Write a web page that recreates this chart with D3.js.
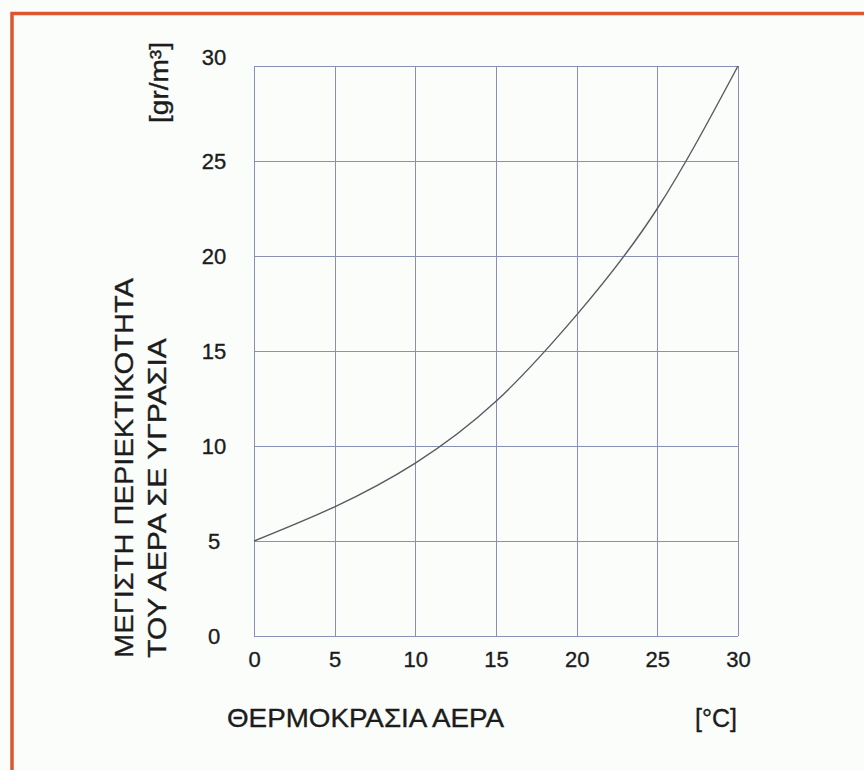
<!DOCTYPE html>
<html lang="el">
<head>
<meta charset="utf-8">
<title>Μέγιστη περιεκτικότητα του αέρα σε υγρασία</title>
<script src="https://cdn.jsdelivr.net/npm/d3@7"></script>
<style>
body{
  margin: 0;
  background: #ffffff;
}
text{
  font-family: "Liberation Sans", Arial, sans-serif;
  fill: #1c1c1c;
  stroke: #1c1c1c;
  stroke-width: 0.35px;
}
.grid line{
  stroke: #8a8fb6;
  stroke-width: 1;
  shape-rendering: crispEdges;
}
.grid path{ display: none; }
.axis path, .axis line{ display: none; }
.axis text{ font-size: 22px; }
</style>
</head>
<body>
<div id="chart"></div>
<script>
// temperature (°C) and max water content (gr/m3)
var temps  = [0, 5, 10, 15, 20, 25, 30];
var water  = [5.0, 6.8, 9.1, 12.35, 16.9, 22.5, 30];
var xTicks = [0, 5, 10, 15, 20, 25, 30];
var yTicks = [0, 5, 10, 15, 20, 25, 30];

var margin = { top: 66, right: 126, bottom: 134, left: 254 };
var W = 864, H = 770;
var width = W - margin.left - margin.right,
    height = H - margin.top - margin.bottom;

var svg = d3.select('#chart').append('svg')
  .attr('width', W)
  .attr('height', H);

// page background + orange frame (right and bottom edges run off the page)
svg.append('rect')
  .attr('x', 0).attr('y', 0).attr('width', W).attr('height', H)
  .style('fill', '#fbfdfb');
svg.append('rect')
  .attr('x', 12).attr('y', 13.5).attr('width', W + 20).attr('height', H + 20)
  .style('fill', 'none')
  .style('stroke', '#dc5630')
  .style('stroke-width', 3.5);

var g = svg.append('g')
  .attr('transform', 'translate(' + margin.left + ',' + margin.top + ')');

var x = d3.scaleLinear().domain([0, 30]).range([0, width]);
var y = d3.scaleLinear().domain([0, 30]).range([height, 0]);

// grid
g.append('g').attr('class', 'grid')
  .call(d3.axisLeft(y).tickValues(yTicks).tickSize(-width).tickFormat(''));
g.append('g').attr('class', 'grid')
  .attr('transform', 'translate(0,' + height + ')')
  .call(d3.axisBottom(x).tickValues(xTicks).tickSize(-height).tickFormat(''));

// tick labels
var yAx = g.append('g').attr('class', 'axis')
  .call(d3.axisLeft(y).tickValues(yTicks).tickSize(0).tickPadding(0));
yAx.selectAll('text')
  .attr('x', -40)
  .attr('dy', function(d) { return d === 30 ? '-0.05em' : '0.35em'; })
  .style('text-anchor', 'middle');

var xAx = g.append('g').attr('class', 'axis')
  .attr('transform', 'translate(0,' + height + ')')
  .call(d3.axisBottom(x).tickValues(xTicks).tickSize(0).tickPadding(15));

// curve
var line = d3.line()
  .x(function(d, i) { return x(temps[i]); })
  .y(function(d) { return y(d); })
  .curve(d3.curveNatural);

g.append('path')
  .datum(water)
  .attr('d', line)
  .style('fill', 'none')
  .style('stroke', '#5a5a62')
  .style('stroke-width', 1.4);

// axis titles
svg.append('text')
  .attr('x', 227).attr('y', 727)
  .attr('textLength', 277).attr('lengthAdjust', 'spacingAndGlyphs')
  .style('font-size', '26px')
  .text('ΘΕΡΜΟΚΡΑΣΙΑ ΑΕΡΑ');

svg.append('text')
  .attr('x', 737).attr('y', 727)
  .style('text-anchor', 'end')
  .style('font-size', '25px')
  .text('[°C]');

svg.append('text')
  .attr('transform', 'translate(133,658) rotate(-90)')
  .attr('textLength', 380).attr('lengthAdjust', 'spacingAndGlyphs')
  .style('font-size', '26px')
  .text('ΜΕΓΙΣΤΗ ΠΕΡΙΕΚΤΙΚΟΤΗΤΑ');

svg.append('text')
  .attr('transform', 'translate(166,658) rotate(-90)')
  .attr('textLength', 320).attr('lengthAdjust', 'spacingAndGlyphs')
  .style('font-size', '26px')
  .text('ΤΟΥ ΑΕΡΑ ΣΕ ΥΓΡΑΣΙΑ');

svg.append('text')
  .attr('transform', 'translate(168,123) rotate(-90)')
  .attr('textLength', 81).attr('lengthAdjust', 'spacingAndGlyphs')
  .style('font-size', '25px')
  .text('[gr/m³]');
</script>
</body>
</html>
